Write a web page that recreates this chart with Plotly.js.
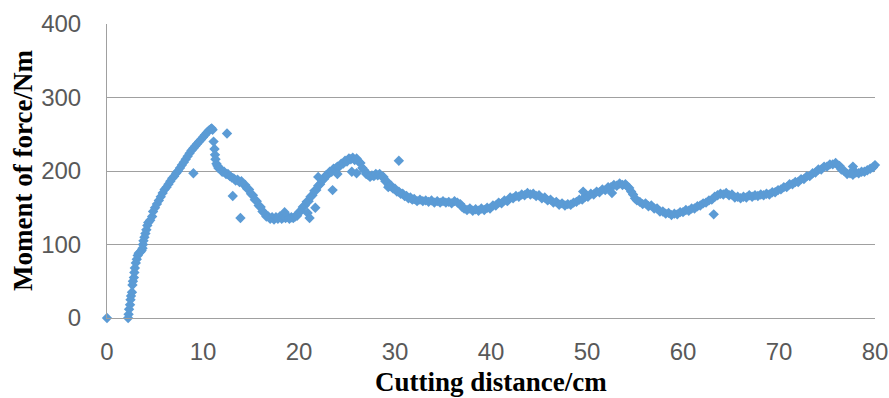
<!DOCTYPE html>
<html>
<head>
<meta charset="utf-8">
<script src="https://cdn.plot.ly/plotly-3.0.1.min.js"></script>
<style>html,body{margin:0;padding:0;background:#fff;}#chart{width:889px;height:398px;}</style>
</head>
<body>
<div id="chart"></div>
<script>
// Cutting distance (cm) and moment of force (Nm)
const startX = [0];
const startY = [0];

const riseX = [2.2,2.25,2.3,2.4,2.45,2.5,2.6,2.65,2.7,2.8,2.85,2.9,3.0,3.1,3.2,3.3,3.5,3.6,3.7,3.75,3.8,3.9,4.0,4.1,4.2,4.3,4.5,4.7,4.8,5.0,5.2,5.4,5.6,5.8,6.0,6.2,6.4,6.6,6.8,7.0,7.2,7.4,7.6,7.8,8.0,8.2,8.4,8.6,8.8,9.0,9.2,9.4,9.6,9.8,10.0,10.2,10.4,10.6,10.8,10.9,11.0];
const riseY = [0,5,12,18,25,30,35,45,50,55,62,68,75,80,85,88,90,92,95,100,105,110,115,120,126,130,133,138,145,150,155,160,165,170,175,178,182,186,190,193,197,200,204,208,212,216,220,224,228,231,234,237,240,243,246,249,252,255,257,258,256];

const mainX = [11.1,11.2,11.25,11.3,11.4,11.5,11.6,11.8,12.0,12.2,12.4,12.6,12.8,13.0,13.2,13.4,13.6,13.8,14.0,14.2,14.4,14.6,14.8,15.0,15.2,15.4,15.6,15.8,16.0,16.2,16.4,16.6,16.8,17.0,17.2,17.4,17.6,17.8,18.0,18.2,18.4,18.6,18.8,19.0,19.2,19.4,19.6,19.8,20.0,20.2,20.4,20.6,20.8,21.0,21.2,21.4,21.6,21.8,22.0,22.2,22.4,22.6,22.8,23.0,23.2,23.4,23.6,23.8,24.0,24.2,24.4,24.6,24.8,25.0,25.2,25.4,25.6,25.8,26.0,26.2,26.4,26.6,26.8,27.0,27.2,27.4,27.6,27.8,28.0,28.2,28.4,28.6,28.8,29.0,29.2,29.4,29.6,29.8,30.0,30.2,30.4,30.6,30.8,31.0,31.2,31.4,31.6,31.8,32.0,32.3,32.6,32.9,33.2,33.5,33.8,34.1,34.4,34.7,35.0,35.3,35.6,35.9,36.2,36.5,36.8,37.0,37.2,37.5,37.8,38.1,38.4,38.7,39.0,39.3,39.6,39.9,40.2,40.5,40.8,41.1,41.4,41.7,42.0,42.3,42.6,42.9,43.2,43.5,43.8,44.1,44.4,44.7,45.0,45.3,45.6,45.9,46.2,46.5,46.8,47.1,47.4,47.7,48.0,48.3,48.6,48.9,49.2,49.5,49.8,50.1,50.4,50.7,51.0,51.3,51.6,51.9,52.2,52.5,52.8,53.1,53.4,53.7,54.0,54.2,54.4,54.6,54.8,55.0,55.2,55.5,55.8,56.1,56.4,56.7,57.0,57.3,57.6,57.9,58.2,58.5,58.8,59.1,59.4,59.7,60.0,60.3,60.6,60.9,61.2,61.5,61.8,62.1,62.4,62.7,63.0,63.3,63.6,63.9,64.2,64.5,64.8,65.1,65.4,65.7,66.0,66.3,66.6,66.9,67.2,67.5,67.8,68.1,68.4,68.7,69.0,69.3,69.6,69.9,70.2,70.5,70.8,71.1,71.4,71.7,72.0,72.3,72.6,72.9,73.2,73.5,73.8,74.1,74.4,74.7,75.0,75.3,75.6,75.9,76.1,76.3,76.5,76.8,77.1,77.4,77.7,78.0,78.3,78.6,78.9,79.2,79.5,79.8,80.0];
const mainY = [240,230,222,216,210,207,204,203,199,199,196,196,193,191,190,187,188,185,186,182,181,176,175,169,167,161,159,153,151,145,143,138,138,135,137,134,137,135,138,135,137,136,138,135,137,136,138,139,144,146,151,153,158,159,165,167,173,174,180,182,187,189,194,195,199,199,203,203,206,206,210,210,214,213,217,216,218,215,217,213,211,204,201,196,195,192,194,193,196,194,196,193,192,186,185,180,180,176,176,172,172,169,169,166,166,163,164,161,162,159,161,159,160,158,160,157,159,157,159,157,158,156,159,157,155,151,149,147,149,146,148,146,149,147,150,149,153,153,157,156,160,159,164,163,166,165,168,167,170,168,169,166,167,163,164,160,161,157,158,154,156,153,155,154,157,158,161,161,165,165,169,168,172,171,175,174,178,178,181,180,183,181,182,179,177,172,168,163,160,158,155,156,152,153,149,149,145,145,142,143,140,142,141,144,144,147,146,149,149,152,153,156,157,160,161,165,167,169,168,170,167,168,164,165,163,165,164,167,165,167,166,168,167,169,168,171,171,174,175,178,178,182,182,185,185,189,189,193,193,197,198,202,202,206,206,209,209,211,208,207,202,200,196,197,195,198,197,199,199,201,203,205,208];

const strayX = [9.0,12.5,13.1,13.9,18.5,20.9,21.1,21.7,22.0,23.5,24.0,25.5,26.0,29.3,30.4,49.6,52.6,63.2,77.7];
const strayY = [197,251,166,136,144,143,136,150,192,174,196,199,197,178,214,172,170,141,206];

const xTicks = [0,10,20,30,40,50,60,70,80];
const yTicks = [0,100,200,300,400];
const xTitle = 'Cutting distance/cm';
const yTitle = 'Moment of force/Nm';

const xs = startX.concat(riseX, mainX, strayX);
const ys = startY.concat(riseY, mainY, strayY);

const tickFont = {family: '"Liberation Sans", Arial, sans-serif', size: 24, color: '#595959'};
const titleFont = {family: '"Liberation Serif", "Times New Roman", serif', size: 27, color: '#000000', weight: 'bold'};

Plotly.newPlot('chart', [{
  x: xs, y: ys, type: 'scatter', mode: 'markers', cliponaxis: false,
  marker: {symbol: 'diamond', size: 8, color: '#5B9BD5', line: {width: 0}}
}], {
  width: 889, height: 398,
  margin: {l: 107, r: 14, t: 24, b: 80, pad: 0},
  paper_bgcolor: '#ffffff', plot_bgcolor: '#ffffff',
  showlegend: false,
  xaxis: {
    range: [0, 80], tickvals: xTicks, ticktext: xTicks.map(String),
    showgrid: false, zeroline: false, showline: true, linecolor: '#a0a0a0', linewidth: 1,
    ticks: '', tickfont: tickFont, ticklabelstandoff: 12, ticklabeloverflow: 'allow', automargin: false
  },
  yaxis: {
    range: [0, 400], tickvals: yTicks, ticktext: yTicks.map(String),
    showgrid: true, gridcolor: '#a0a0a0', gridwidth: 1,
    zeroline: false, showline: true, linecolor: '#a0a0a0', linewidth: 1,
    ticks: '', tickfont: tickFont, ticklabelstandoff: 20, ticklabeloverflow: 'allow', automargin: false
  },
  annotations: [
    {text: xTitle, font: titleFont, xref: 'paper', yref: 'paper', x: 0.5, y: 0,
     xanchor: 'center', yanchor: 'top', yshift: -47, showarrow: false},
    {text: yTitle, font: titleFont, xref: 'paper', yref: 'paper', x: 0, y: 0.5,
     xanchor: 'center', yanchor: 'middle', xshift: -84, textangle: -90, showarrow: false}
  ]
}, {displayModeBar: false, staticPlot: true});
</script>
</body>
</html>
